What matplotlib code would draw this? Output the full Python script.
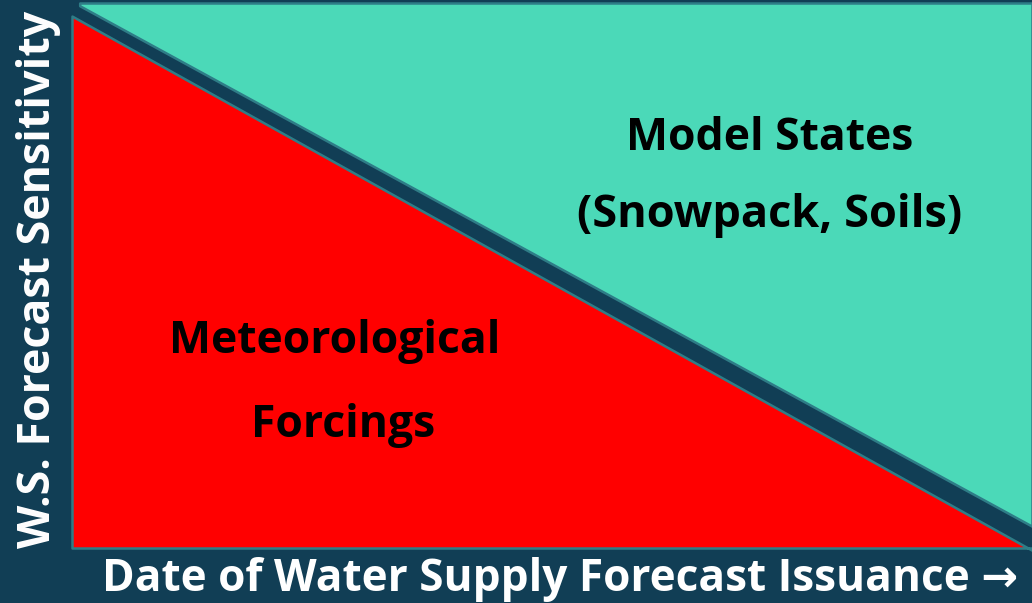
import matplotlib
matplotlib.use("Agg")
import matplotlib.pyplot as plt

# conceptual data: share of water-supply forecast sensitivity vs. issuance date
issue_date = [0.0, 1.0]
met_forcing = [0.976, -0.004]          # top edge of the red wedge
state_date = [0.008, 1.0]
model_states = [0.995, 0.040]          # lower edge of the teal wedge

bg = "#113e55"
edge = "#2e7d87"

fig = plt.figure(figsize=(10.32, 6.03), dpi=100, facecolor=bg)
ax = fig.add_axes([0, 0, 1, 1])
ax.set_facecolor(bg)
ax.set_xlim(-72 / 960, 1.0)
ax.set_ylim(-55 / 545, 1 + 3 / 545)
ax.axis("off")

ax.fill_between(state_date, model_states, 1.0, facecolor="#4bd9b8",
                edgecolor=edge, linewidth=1.8)
ax.fill_between(issue_date, 0.0, met_forcing, facecolor="#ff0000",
                edgecolor=edge, linewidth=1.8)

font = ["Open Sans", "DejaVu Sans"]
ax.text(0.727, 0.730, "Model States", ha="center", va="baseline",
        fontsize=32, fontweight="bold", family=font, color="black")
ax.text(0.727, 0.589, "(Snowpack, Soils)", ha="center", va="baseline",
        fontsize=32.5, fontweight="bold", family=font, color="black")
ax.text(0.274, 0.358, "Meteorological", ha="center", va="baseline",
        fontsize=32, fontweight="bold", family=font, color="black")
ax.text(0.282, 0.204, "Forcings", ha="center", va="baseline",
        fontsize=32, fontweight="bold", family=font, color="black")

ax.text(0.508, -0.0795, "Date of Water Supply Forecast Issuance \u2192",
        ha="center", va="baseline", fontsize=31.8, fontweight="bold",
        family=font, color="white")
ax.text(-0.0229, 0.492, "W.S. Forecast Sensitivity", rotation=90,
        rotation_mode="anchor", ha="center", va="baseline", fontsize=32.2,
        fontweight="bold", family=font, color="white")

fig.savefig("out.png", dpi=100, facecolor=bg)
